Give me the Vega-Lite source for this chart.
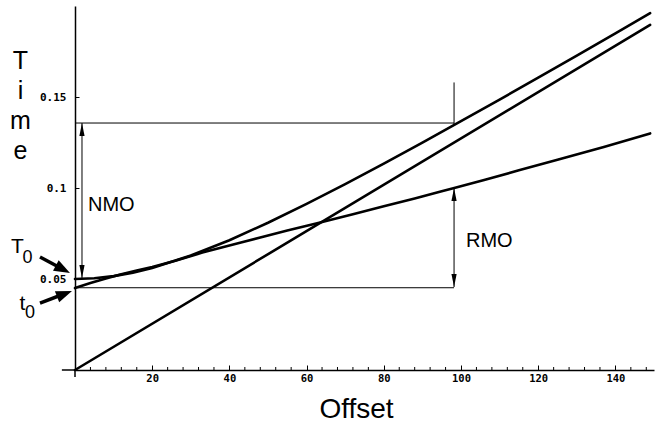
{
  "$schema": "https://vega.github.io/schema/vega-lite/v6.json",
  "width": 579,
  "height": 364,
  "autosize": {"type": "none"},
  "padding": {"left": 75, "top": 6, "right": 11, "bottom": 53},
  "background": "white",
  "config": {"view": {"stroke": null}},
  "datasets": {
    "curves": [
      {"curve": "direct", "x": 0, "y": 0},
      {"curve": "direct", "x": 149, "y": 0.1896},
      {"curve": "nmo", "x": 0, "y": 0.05},
      {"curve": "nmo", "x": 5, "y": 0.0504},
      {"curve": "nmo", "x": 10, "y": 0.0516},
      {"curve": "nmo", "x": 15, "y": 0.0535},
      {"curve": "nmo", "x": 20, "y": 0.0561},
      {"curve": "nmo", "x": 30, "y": 0.0629},
      {"curve": "nmo", "x": 40, "y": 0.0713},
      {"curve": "nmo", "x": 50, "y": 0.0809},
      {"curve": "nmo", "x": 60, "y": 0.0913},
      {"curve": "nmo", "x": 70, "y": 0.1021},
      {"curve": "nmo", "x": 80, "y": 0.1134},
      {"curve": "nmo", "x": 90, "y": 0.1249},
      {"curve": "nmo", "x": 100, "y": 0.1367},
      {"curve": "nmo", "x": 110, "y": 0.1486},
      {"curve": "nmo", "x": 120, "y": 0.1606},
      {"curve": "nmo", "x": 130, "y": 0.1728},
      {"curve": "nmo", "x": 140, "y": 0.185},
      {"curve": "nmo", "x": 149, "y": 0.1961},
      {"curve": "rmo", "x": 0, "y": 0.045},
      {"curve": "rmo", "x": 4, "y": 0.0478},
      {"curve": "rmo", "x": 8, "y": 0.0503},
      {"curve": "rmo", "x": 12, "y": 0.0526},
      {"curve": "rmo", "x": 16, "y": 0.0546},
      {"curve": "rmo", "x": 20, "y": 0.0566},
      {"curve": "rmo", "x": 26, "y": 0.06},
      {"curve": "rmo", "x": 33, "y": 0.0645},
      {"curve": "rmo", "x": 43, "y": 0.07},
      {"curve": "rmo", "x": 48, "y": 0.0728},
      {"curve": "rmo", "x": 55, "y": 0.0766},
      {"curve": "rmo", "x": 63, "y": 0.0808},
      {"curve": "rmo", "x": 72, "y": 0.0856},
      {"curve": "rmo", "x": 80, "y": 0.09},
      {"curve": "rmo", "x": 88, "y": 0.0942},
      {"curve": "rmo", "x": 95, "y": 0.0982},
      {"curve": "rmo", "x": 98, "y": 0.0998},
      {"curve": "rmo", "x": 106, "y": 0.1044},
      {"curve": "rmo", "x": 115, "y": 0.1097},
      {"curve": "rmo", "x": 125, "y": 0.1155},
      {"curve": "rmo", "x": 137, "y": 0.1225},
      {"curve": "rmo", "x": 149, "y": 0.13}
    ],
    "thin": [
      {"x": 0, "y": 0.1357, "x2": 98.2, "y2": 0.1357},
      {"x": 0, "y": 0.0452, "x2": 98.2, "y2": 0.0452},
      {"x": 98.2, "y": 0.1346, "x2": 98.2, "y2": 0.158},
      {"x": 1.81, "y": 0.0505, "x2": 1.81, "y2": 0.1357},
      {"x": 98.2, "y": 0.0456, "x2": 98.2, "y2": 0.1}
    ],
    "axisext": [
      {"x": -3.4, "y": 0, "x2": 0, "y2": 0},
      {"x": 0, "y": -0.0038, "x2": 0, "y2": 0}
    ],
    "minorTicks": [
      {"x": 4}, {"x": 8}, {"x": 12}, {"x": 16}, {"x": 24}, {"x": 28}, {"x": 32}, {"x": 36},
      {"x": 44}, {"x": 48}, {"x": 52}, {"x": 56}, {"x": 64}, {"x": 68}, {"x": 72}, {"x": 76},
      {"x": 84}, {"x": 88}, {"x": 92}, {"x": 96}, {"x": 104}, {"x": 108}, {"x": 112}, {"x": 116},
      {"x": 124}, {"x": 128}, {"x": 132}, {"x": 136}, {"x": 144}, {"x": 148}
    ],
    "thick": [
      {"x": -9.07, "y": 0.0621, "x2": -3.13, "y2": 0.0554},
      {"x": -9.07, "y": 0.0368, "x2": -2.72, "y2": 0.0419}
    ],
    "headsUp": [{"x": 1.81, "y": 0.1357}, {"x": 98.2, "y": 0.1}],
    "headsDown": [{"x": 1.81, "y": 0.0505}, {"x": 98.2, "y": 0.0456}],
    "headT0": [{"x": -1.3, "y": 0.0533}],
    "headt0": [{"x": -0.78, "y": 0.0434}],
    "bigText": [
      {"label": "NMO", "x": 3.37, "y": 0.0874},
      {"label": "RMO", "x": 101.3, "y": 0.0676}
    ],
    "letters": [
      {"label": "T", "x": -14.9, "y": 0.0643},
      {"label": "t", "x": -13.6, "y": 0.033}
    ],
    "subs": [
      {"label": "0", "x": -12.3, "y": 0.0588},
      {"label": "0", "x": -11.66, "y": 0.0286}
    ]
  },
  "layer": [
    {
      "data": {"name": "curves"},
      "mark": {"type": "line", "color": "black", "strokeWidth": 2.6, "strokeCap": "round", "clip": false},
      "encoding": {
        "x": {
          "field": "x", "type": "quantitative",
          "scale": {"domain": [0, 150], "nice": false, "zero": false},
          "axis": {
            "title": "Offset",
            "titleFont": "Liberation Sans", "titleFontSize": 28, "titleFontWeight": "normal",
            "titleX": 281, "titleY": 47, "titleBaseline": "alphabetic", "titleAlign": "center",
            "values": [20, 40, 60, 80, 100, 120, 140],
            "labelFont": "DejaVu Sans Mono", "labelFontSize": 10.5, "labelFontWeight": "bold",
            "labelColor": "black", "labelPadding": 8,
            "tickSize": -5,
            "tickColor": "black", "tickWidth": 1,
            "domainColor": "black", "domainWidth": 1.5,
            "grid": false, "labelFlush": false, "labelOverlap": false
          }
        },
        "y": {
          "field": "y", "type": "quantitative",
          "scale": {"domain": [0, 0.2], "nice": false},
          "axis": {
            "title": ["T", "i", "m", "e"],
            "titleFont": "Liberation Sans", "titleFontSize": 25, "titleFontWeight": "normal",
            "titleAngle": 0, "titleX": -55, "titleY": 62, "titleAlign": "center",
            "titleBaseline": "alphabetic", "titleLineHeight": 30,
            "values": [0.05, 0.1, 0.15],
            "format": "~g",
            "labelFont": "DejaVu Sans Mono", "labelFontSize": 11, "labelFontWeight": "bold",
            "labelColor": "black", "labelPadding": 13,
            "tickSize": -4, "tickColor": "black", "tickWidth": 1,
            "domainColor": "black", "domainWidth": 1.5,
            "grid": false
          }
        },
        "detail": {"field": "curve"}
      }
    },
    {
      "data": {"name": "thin"},
      "mark": {"type": "rule", "color": "black", "strokeWidth": 1},
      "encoding": {
        "x": {"field": "x", "type": "quantitative"},
        "y": {"field": "y", "type": "quantitative"},
        "x2": {"field": "x2"},
        "y2": {"field": "y2"}
      }
    },
    {
      "data": {"name": "axisext"},
      "mark": {"type": "rule", "color": "black", "strokeWidth": 1.5},
      "encoding": {
        "x": {"field": "x", "type": "quantitative"},
        "y": {"field": "y", "type": "quantitative"},
        "x2": {"field": "x2"},
        "y2": {"field": "y2"}
      }
    },
    {
      "data": {"name": "minorTicks"},
      "mark": {"type": "tick", "orient": "vertical", "size": 3, "thickness": 1, "yOffset": -1.5, "color": "black", "opacity": 1},
      "encoding": {
        "x": {"field": "x", "type": "quantitative"},
        "y": {"datum": 0, "type": "quantitative"}
      }
    },
    {
      "data": {"name": "thick"},
      "mark": {"type": "rule", "color": "black", "strokeWidth": 3.5},
      "encoding": {
        "x": {"field": "x", "type": "quantitative"},
        "y": {"field": "y", "type": "quantitative"},
        "x2": {"field": "x2"},
        "y2": {"field": "y2"}
      }
    },
    {
      "data": {"name": "headsUp"},
      "mark": {"type": "point", "shape": "M0,0L0.4,2L-0.4,2Z", "size": 169, "filled": true, "color": "black", "opacity": 1, "strokeWidth": 0},
      "encoding": {
        "x": {"field": "x", "type": "quantitative"},
        "y": {"field": "y", "type": "quantitative"}
      }
    },
    {
      "data": {"name": "headsDown"},
      "mark": {"type": "point", "shape": "M0,0L0.4,-2L-0.4,-2Z", "size": 169, "filled": true, "color": "black", "opacity": 1, "strokeWidth": 0},
      "encoding": {
        "x": {"field": "x", "type": "quantitative"},
        "y": {"field": "y", "type": "quantitative"}
      }
    },
    {
      "data": {"name": "headT0"},
      "mark": {"type": "point", "shape": "M0,0L0.75,2L-0.75,2Z", "size": 256, "angle": 118, "filled": true, "color": "black", "opacity": 1, "strokeWidth": 0},
      "encoding": {
        "x": {"field": "x", "type": "quantitative"},
        "y": {"field": "y", "type": "quantitative"}
      }
    },
    {
      "data": {"name": "headt0"},
      "mark": {"type": "point", "shape": "M0,0L0.75,2L-0.75,2Z", "size": 256, "angle": 69, "filled": true, "color": "black", "opacity": 1, "strokeWidth": 0},
      "encoding": {
        "x": {"field": "x", "type": "quantitative"},
        "y": {"field": "y", "type": "quantitative"}
      }
    },
    {
      "data": {"name": "bigText"},
      "mark": {"type": "text", "font": "Liberation Sans", "fontSize": 20, "align": "left", "baseline": "alphabetic", "color": "black"},
      "encoding": {
        "x": {"field": "x", "type": "quantitative"},
        "y": {"field": "y", "type": "quantitative"},
        "text": {"field": "label"}
      }
    },
    {
      "data": {"name": "letters"},
      "mark": {"type": "text", "font": "Liberation Sans", "fontSize": 21, "align": "center", "baseline": "alphabetic", "color": "black"},
      "encoding": {
        "x": {"field": "x", "type": "quantitative"},
        "y": {"field": "y", "type": "quantitative"},
        "text": {"field": "label"}
      }
    },
    {
      "data": {"name": "subs"},
      "mark": {"type": "text", "font": "Liberation Sans", "fontSize": 18, "align": "center", "baseline": "alphabetic", "color": "black"},
      "encoding": {
        "x": {"field": "x", "type": "quantitative"},
        "y": {"field": "y", "type": "quantitative"},
        "text": {"field": "label"}
      }
    }
  ]
}
